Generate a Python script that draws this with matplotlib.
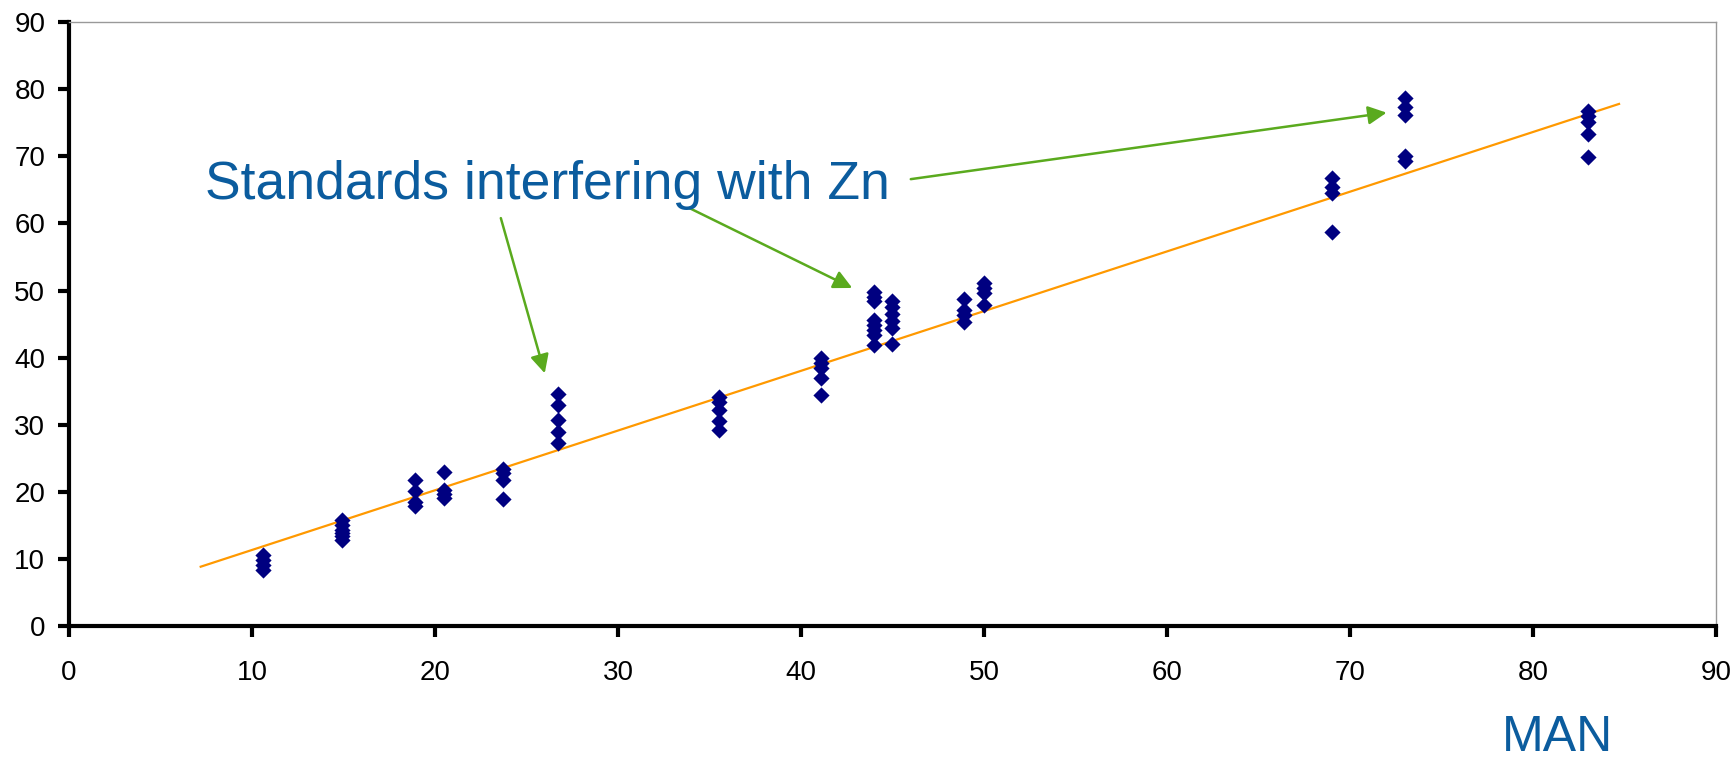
import matplotlib.pyplot as plt

plt.rcParams['font.family'] = ['Liberation Sans', 'DejaVu Sans']

# MAN value of each standard and the measured values at that standard
man_levels = [10.6, 14.9, 18.9, 20.5, 23.7, 26.7, 35.5, 41.1, 44.0, 45.0, 48.9, 50.0, 69.0, 73.0, 83.0]
measured = [
    [10.6, 9.9, 9.2, 8.4],
    [15.9, 15.1, 14.4, 13.9, 13.4, 12.9],
    [21.8, 20.1, 18.6, 17.9],
    [23.0, 20.3, 19.7, 19.1],
    [23.5, 22.8, 21.8, 19.0],
    [34.6, 33.0, 30.7, 29.0, 27.3],
    [34.1, 33.4, 32.2, 30.6, 29.3],
    [40.0, 39.3, 38.5, 37.0, 34.4],
    [49.8, 49.1, 48.4, 45.6, 44.9, 44.2, 43.4, 41.9],
    [48.4, 47.5, 46.5, 45.5, 44.5, 42.1],
    [48.8, 47.1, 46.4, 45.4],
    [51.1, 50.4, 49.6, 47.8],
    [66.7, 65.5, 64.5, 58.8],
    [78.7, 77.4, 76.2, 70.0, 69.3],
    [76.8, 76.0, 75.1, 73.3, 69.9],
]

# trend line ends
trend_x = [7.2, 84.7]
trend_y = [8.9, 77.8]

# arrows: text side -> tip
arrow_from = [(23.6, 60.8), (33.9, 62.3), (46.0, 66.6)]
arrow_to = [(26.0, 37.7), (42.8, 50.4), (72.0, 76.5)]

xs = []
ys = []
for m, vals in zip(man_levels, measured):
    for v in vals:
        xs.append(m)
        ys.append(v)

fig = plt.figure(figsize=(17.36, 7.58), dpi=100)
ax = fig.add_axes([0.0397, 0.1735, 0.9488, 0.7975])

ax.plot(trend_x, trend_y, color='#FF9900', lw=1.6, zorder=2)
ax.scatter(xs, ys, marker='D', s=68, color='#000080', zorder=3, linewidths=0)

green = '#5AAA1E'
for a, b in zip(arrow_from, arrow_to):
    ax.annotate('', xy=b, xytext=a,
                arrowprops=dict(arrowstyle='-|>', color=green, lw=1.8,
                                mutation_scale=28, shrinkA=0, shrinkB=0))

ax.text(7.43, 63.6, 'Standards interfering with Zn', fontsize=38.5,
        color='#0B5C9E', ha='left', va='baseline')

ax.set_xlim(0, 90)
ax.set_ylim(0, 90)
ax.set_xticks(range(0, 91, 10))
ax.set_yticks(range(0, 91, 10))

for s in ['left', 'bottom']:
    ax.spines[s].set_linewidth(3)
for s in ['top', 'right']:
    ax.spines[s].set_linewidth(1)
    ax.spines[s].set_color('#999999')

ax.tick_params(axis='x', length=8, width=3, labelsize=20, pad=16)
ax.tick_params(axis='y', length=8, width=3, labelsize=20, pad=9)

ax.set_xlabel('MAN', fontsize=36, color='#0B5C9E', va='center')
ax.xaxis.set_label_coords(0.904, -0.184)

plt.savefig('out.png')
